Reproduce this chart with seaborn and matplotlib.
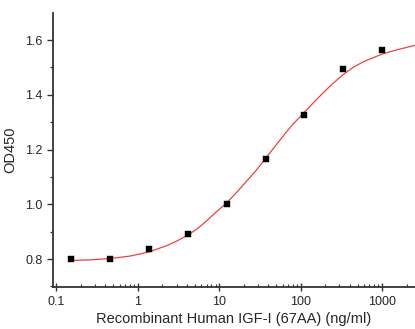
import numpy as np
import pandas as pd
import matplotlib
matplotlib.use("Agg")
import matplotlib.pyplot as plt
import seaborn as sns
from matplotlib.ticker import LogLocator, FixedLocator, NullFormatter

# measured points (3-fold dilution series)
conc = [0.152, 0.457, 1.37, 4.12, 12.3, 37.0, 111.0, 333.0, 1000.0]
od450 = [0.800, 0.800, 0.837, 0.891, 1.000, 1.166, 1.327, 1.494, 1.563]

# fitted curve
fit_conc = [0.15, 0.25, 0.46, 0.8, 1.37, 2.3, 3.0, 4.1, 5.5, 7.0, 9.5, 12.3,
            16.0, 20.0, 28.0, 37.0, 50.0, 65.0, 80.0, 111.0, 150.0, 190.0,
            250.0, 333.0, 450.0, 600.0, 800.0, 1000.0, 1600.0, 2540.0]
fit_od = [0.795, 0.797, 0.802, 0.811, 0.826, 0.850, 0.866, 0.887, 0.913,
          0.940, 0.976, 1.005, 1.041, 1.073, 1.122, 1.168, 1.217, 1.260,
          1.292, 1.336, 1.377, 1.408, 1.442, 1.474, 1.502, 1.522, 1.537,
          1.549, 1.566, 1.581]

pts = pd.DataFrame({"conc": conc, "od": od450})
fit = pd.DataFrame({"conc": fit_conc, "od": fit_od})

sns.set_style("ticks")
plt.rcParams["font.family"] = ["Liberation Sans", "DejaVu Sans"]

fig = plt.figure(figsize=(4.15, 3.29), dpi=100)
ax = fig.add_axes([53 / 415, 1 - 287 / 329, 1 - 53 / 415, (287 - 13) / 329])

sns.lineplot(data=fit, x="conc", y="od", color="#f04040", linewidth=0.9, ax=ax)
sns.scatterplot(data=pts, x="conc", y="od", marker="s", s=19, color="black",
                edgecolor="black", linewidth=0.3, ax=ax, zorder=3)

ax.set_xscale("log")
ax.set_xlim(0.0906, 2540)
ax.set_ylim(0.698, 1.699)
ax.set_yticks([0.8, 1.0, 1.2, 1.4, 1.6])
ax.set_yticklabels(["0.8", "1.0", "1.2", "1.4", "1.6"])
ax.yaxis.set_minor_locator(FixedLocator([0.7, 0.9, 1.1, 1.3, 1.5, 1.7]))
ax.set_xticks([0.1, 1, 10, 100, 1000])
ax.set_xticklabels(["0.1", "1", "10", "100", "1000"])
ax.xaxis.set_minor_locator(LogLocator(base=10, subs=np.arange(2, 10), numticks=20))
ax.xaxis.set_minor_formatter(NullFormatter())

ax.set_xlabel("Recombinant Human IGF-I (67AA) (ng/ml)", fontsize=10.5, labelpad=3)
ax.set_ylabel("OD450", fontsize=10.5, labelpad=6)

for side in ["top", "right"]:
    ax.spines[side].set_visible(False)
for side in ["left", "bottom"]:
    ax.spines[side].set_color("#333333")
    ax.spines[side].set_linewidth(1.3)

ax.tick_params(axis="both", which="major", labelsize=9, color="#333333", width=1.0)
ax.tick_params(axis="y", which="major", direction="out", length=4)
ax.tick_params(axis="y", which="minor", direction="out", length=2.5, width=0.9, color="#333333")
ax.tick_params(axis="x", which="major", direction="inout", length=6)
ax.tick_params(axis="x", which="minor", direction="in", length=2.5, width=0.8, color="#333333")

fig.savefig("out.png", dpi=100)
